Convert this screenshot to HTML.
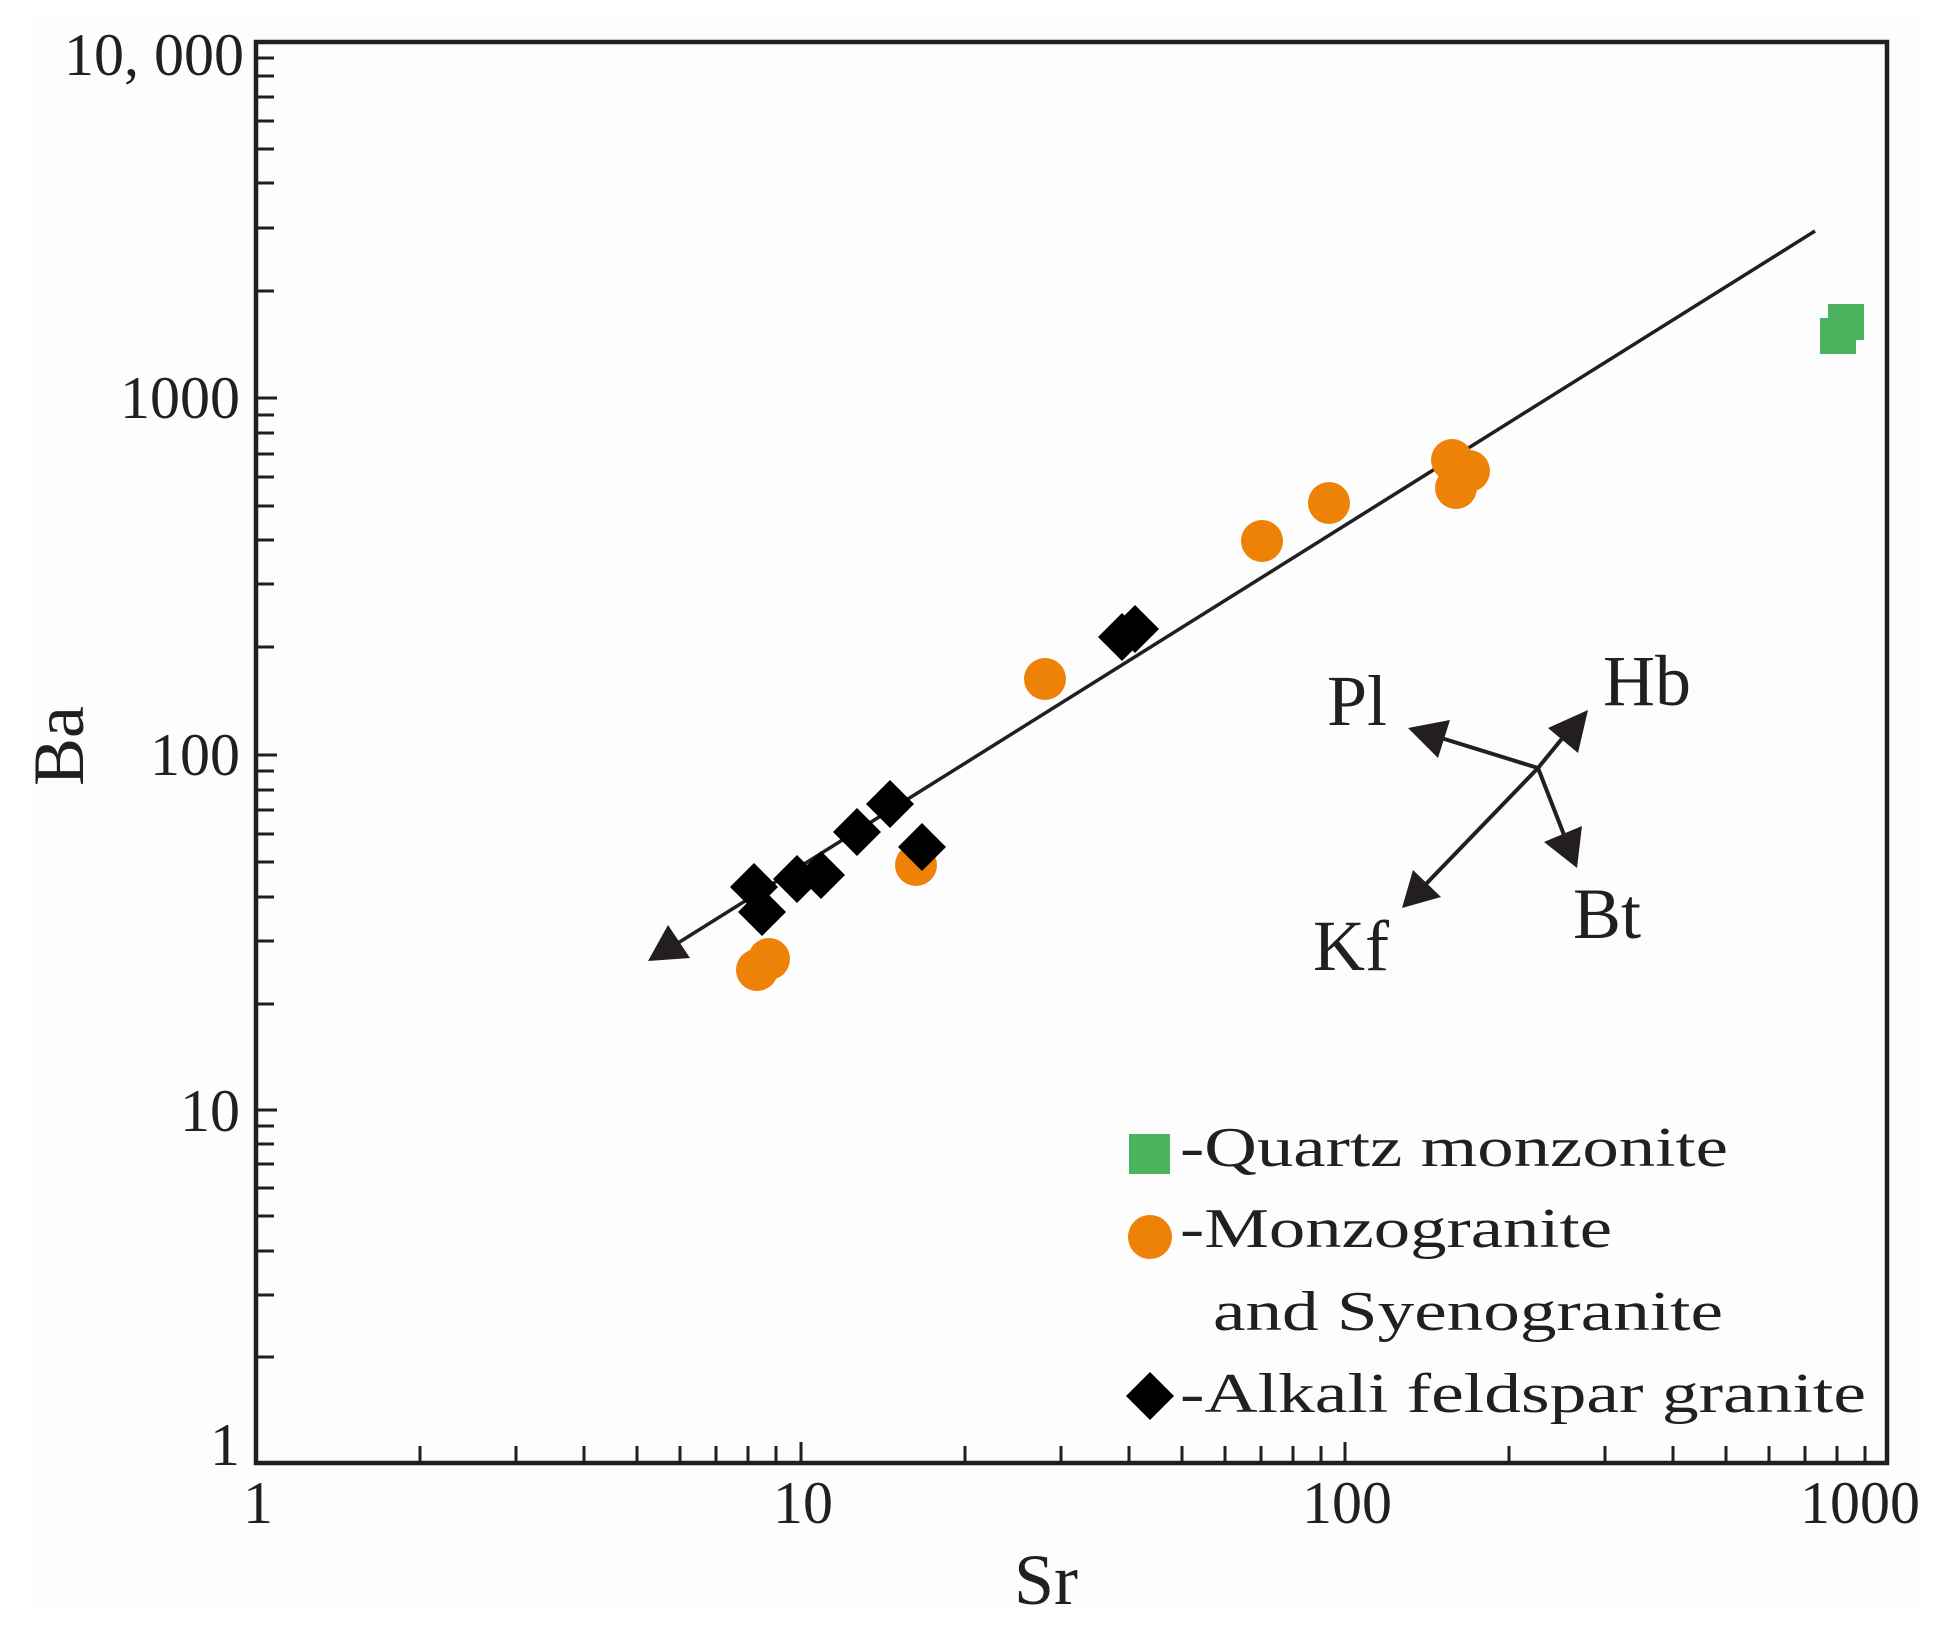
<!DOCTYPE html>
<html><head><meta charset="utf-8"><style>html,body{margin:0;padding:0;background:#fff}svg{display:block}</style></head>
<body>
<svg width="1950" height="1633" viewBox="0 0 1950 1633" xmlns="http://www.w3.org/2000/svg" font-family="'Liberation Serif', serif" fill="#231f20">
<rect x="0" y="0" width="1950" height="1633" fill="#fff"/>
<rect x="30" y="20" width="1890" height="1590" fill="#fdfdfd"/>
<g id="ticks" stroke="#231f20" stroke-width="3">
<path d="
M420,1463v-17 M516,1463v-17 M584,1463v-17 M637,1463v-17 M680,1463v-17 M716,1463v-17 M748,1463v-17 M776,1463v-17 M801,1463v-21
M965,1463v-17 M1061,1463v-17 M1129,1463v-17 M1182,1463v-17 M1225,1463v-17 M1261,1463v-17 M1293,1463v-17 M1321,1463v-17 M1345,1463v-21
M1509,1463v-17 M1605,1463v-17 M1673,1463v-17 M1726,1463v-17 M1769,1463v-17 M1805,1463v-17 M1837,1463v-17 M1865,1463v-17
M256,1357h18 M256,1295h18 M256,1251h18 M256,1216h18 M256,1188h18 M256,1164h18 M256,1144h18 M256,1126h18 M256,1110h21
M256,1004h18 M256,941h18 M256,897h18 M256,862h18 M256,834h18 M256,810h18 M256,790h18 M256,771h18 M256,755h21
M256,647h18 M256,584h18 M256,540h18 M256,506h18 M256,477h18 M256,454h18 M256,433h18 M256,415h18 M256,398h21
M256,291h18 M256,228h18 M256,183h18 M256,149h18 M256,121h18 M256,97h18 M256,76h18 M256,58h18"/>
</g>
<rect x="256" y="42" width="1631" height="1421" fill="none" stroke="#231f20" stroke-width="4.5"/>
<g font-size="60">
<text x="244" y="75" text-anchor="end">10, 000</text>
<text x="240" y="418" text-anchor="end">1000</text>
<text x="240" y="775" text-anchor="end">100</text>
<text x="240" y="1131" text-anchor="end">10</text>
<text x="240" y="1465" text-anchor="end">1</text>
<text x="258" y="1523" text-anchor="middle">1</text>
<text x="803" y="1523" text-anchor="middle">10</text>
<text x="1347" y="1523" text-anchor="middle">100</text>
<text x="1860" y="1523" text-anchor="middle">1000</text>
</g>
<text x="1046" y="1604" font-size="72" text-anchor="middle">Sr</text>
<text transform="translate(83,746) rotate(-90)" font-size="72" text-anchor="middle">Ba</text>
<line x1="670" y1="948" x2="1815" y2="231" stroke="#231f20" stroke-width="3.5"/>
<polygon points="648,961 668,925 690,958" fill="#231f20"/>
<g fill="#ee8206">
<circle cx="757" cy="970" r="21"/>
<circle cx="769" cy="959" r="21"/>
<circle cx="916" cy="865" r="21"/>
<circle cx="1045" cy="679" r="21"/>
<circle cx="1262" cy="541" r="21"/>
<circle cx="1329" cy="503" r="21"/>
<circle cx="1452" cy="460" r="21"/>
<circle cx="1469" cy="471" r="21"/>
<circle cx="1456" cy="488" r="21"/>
</g>
<g fill="#000">
<polygon points="754,863 778,887 754,911 730,887"/>
<polygon points="762,888 786,912 762,936 738,912"/>
<polygon points="797,855 821,879 797,903 773,879"/>
<polygon points="821,851 845,875 821,899 797,875"/>
<polygon points="857,808 881,832 857,856 833,832"/>
<polygon points="890,780 914,804 890,828 866,804"/>
<polygon points="922,823 946,847 922,871 898,847"/>
<polygon points="1122,613 1146,637 1122,661 1098,637"/>
<polygon points="1135,605 1159,629 1135,653 1111,629"/>
</g>
<g fill="#4bb25e">
<rect x="1820" y="318" width="36" height="36"/>
<rect x="1828" y="304" width="36" height="36"/>
</g>
<g stroke="#231f20" stroke-width="4">
<line x1="1538" y1="768" x2="1438" y2="737"/>
<line x1="1538" y1="768" x2="1565" y2="735"/>
<line x1="1538" y1="768" x2="1566" y2="840"/>
<line x1="1538" y1="768" x2="1425" y2="885"/>
</g>
<g fill="#231f20">
<polygon points="1408,728 1450,720 1438,758"/>
<polygon points="1588,710 1578,753 1548,728"/>
<polygon points="1577,868 1544,842 1582,826"/>
<polygon points="1402,908 1441,897 1413,870"/>
</g>
<g font-size="72">
<text x="1327" y="725">Pl</text>
<text x="1603" y="705">Hb</text>
<text x="1573" y="938">Bt</text>
<text x="1313" y="970">Kf</text>
</g>
<rect x="1129" y="1134" width="41" height="40" fill="#4bb25e"/>
<circle cx="1150" cy="1237" r="22" fill="#ee8206"/>
<polygon points="1150,1372 1174,1396 1150,1420 1126,1396" fill="#000"/>
<g font-size="56">
<text x="1180" y="1166" textLength="548" lengthAdjust="spacingAndGlyphs">-Quartz monzonite</text>
<text x="1180" y="1247" textLength="432" lengthAdjust="spacingAndGlyphs">-Monzogranite</text>
<text x="1213" y="1330" textLength="510" lengthAdjust="spacingAndGlyphs">and Syenogranite</text>
<text x="1180" y="1412" textLength="686" lengthAdjust="spacingAndGlyphs">-Alkali feldspar granite</text>
</g>
</svg>
</body></html>
